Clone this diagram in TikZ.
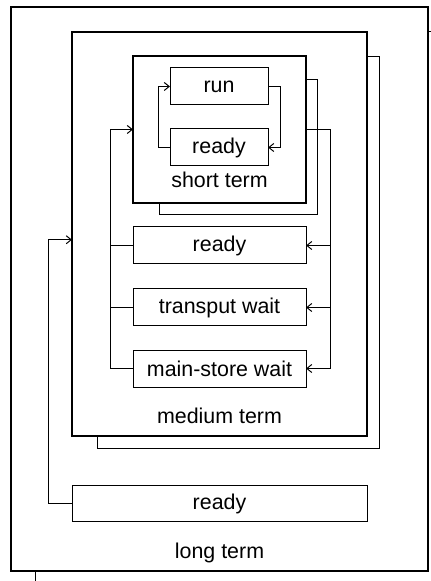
\documentclass[tikz,border=0pt]{standalone}
\usepackage{fontspec}
\setmainfont{Liberation Sans}
\usetikzlibrary{positioning,arrows.meta}

\begin{document}
\begin{tikzpicture}[x=0.5pt, y=-0.5pt, node distance=12pt,
  font=\fontsize{10.7}{12}\selectfont,
  box/.style={draw, line width=0.5pt, inner sep=0pt, outer sep=0pt, minimum height=18.5pt},
  group/.style={draw, line width=1pt, inner sep=0pt, outer sep=0pt, anchor=north west},
  conn/.style={line width=0.5pt, -{Straight Barb[length=2.5pt,width=4pt]}},
  ring/.style={line width=0.5pt}]
\useasboundingbox (0,0) rectangle (431,581);
\clip (0,0) rectangle (431,581);

% the three levels
\node [group, minimum width=208.5pt, minimum height=282pt] (long) at (11,7) {};
\node [group, minimum width=147.5pt, minimum height=201.75pt] (medium) at (72,32) {};
\node [group, minimum width=86.5pt, minimum height=73.5pt] (short) at (133,56) {};

% short term
\node [box, minimum width=49pt] (run) at (219,86.5) {run};
\node [box, minimum width=49pt, below=of run] (sready) {ready};
\node [anchor=base] (shortlbl) at ([yshift=7.5pt]short.south) {short term};

% medium term
\node [box, minimum width=86.5pt, below=of short] (mready) {ready};
\node [box, minimum width=86.5pt, below=12.5pt of mready] (transput) {transput wait};
\node [box, minimum width=86.5pt, below=of transput] (mstore) {main-store wait};
\node [anchor=base] (mediumlbl) at ([yshift=6.25pt]medium.south) {medium term};

% long term
\node [box, minimum width=147.5pt, minimum height=18pt, below=25pt of medium] (lready) {ready};
\node [anchor=base] (longlbl) at ([yshift=6.5pt]long.south) {long term};

% short term arrows
\draw[conn] (run.east) -- ++(6pt,0) |- (sready.east);
\draw[conn] (sready.west) -- ++(-6pt,0) |- (run.west);

% medium term arrows
\coordinate (lbus) at ([xshift=-11.5pt]mready.west);
\coordinate (rbus) at ([xshift=12pt]short.east);
\draw[conn] (mstore.west) -| (lbus |- short.west) -- (short.west);
\draw[ring] (transput.west) -- (lbus |- transput.west);
\draw[ring] (mready.west) -- (lbus);
\draw[conn] (short.east) -| (rbus |- mstore.east) -- (mstore.east);
\draw[conn] (rbus |- transput.east) -- (transput.east);
\draw[conn] (rbus |- mready.east) -- (mready.east);

% long term arrow
\draw[conn] (lready.west) -- ++(-12pt,0) |- ([yshift=-3pt]medium.west);

% loops round each level
\draw[ring] ([yshift=-12pt]short.north east) -| ([xshift=5.5pt,yshift=-6pt]short.south east)
  -| ([xshift=13pt]short.south west);
\draw[ring] ([yshift=-12.5pt]medium.north east) -| ([xshift=6pt,yshift=-6.25pt]medium.south east)
  -| ([xshift=12.5pt]medium.south west);
\draw[ring] ([yshift=-12.5pt]long.north east) -| ([xshift=6pt,yshift=-6pt]long.south east)
  -| ([xshift=12pt]long.south west);
\end{tikzpicture}
\end{document}
